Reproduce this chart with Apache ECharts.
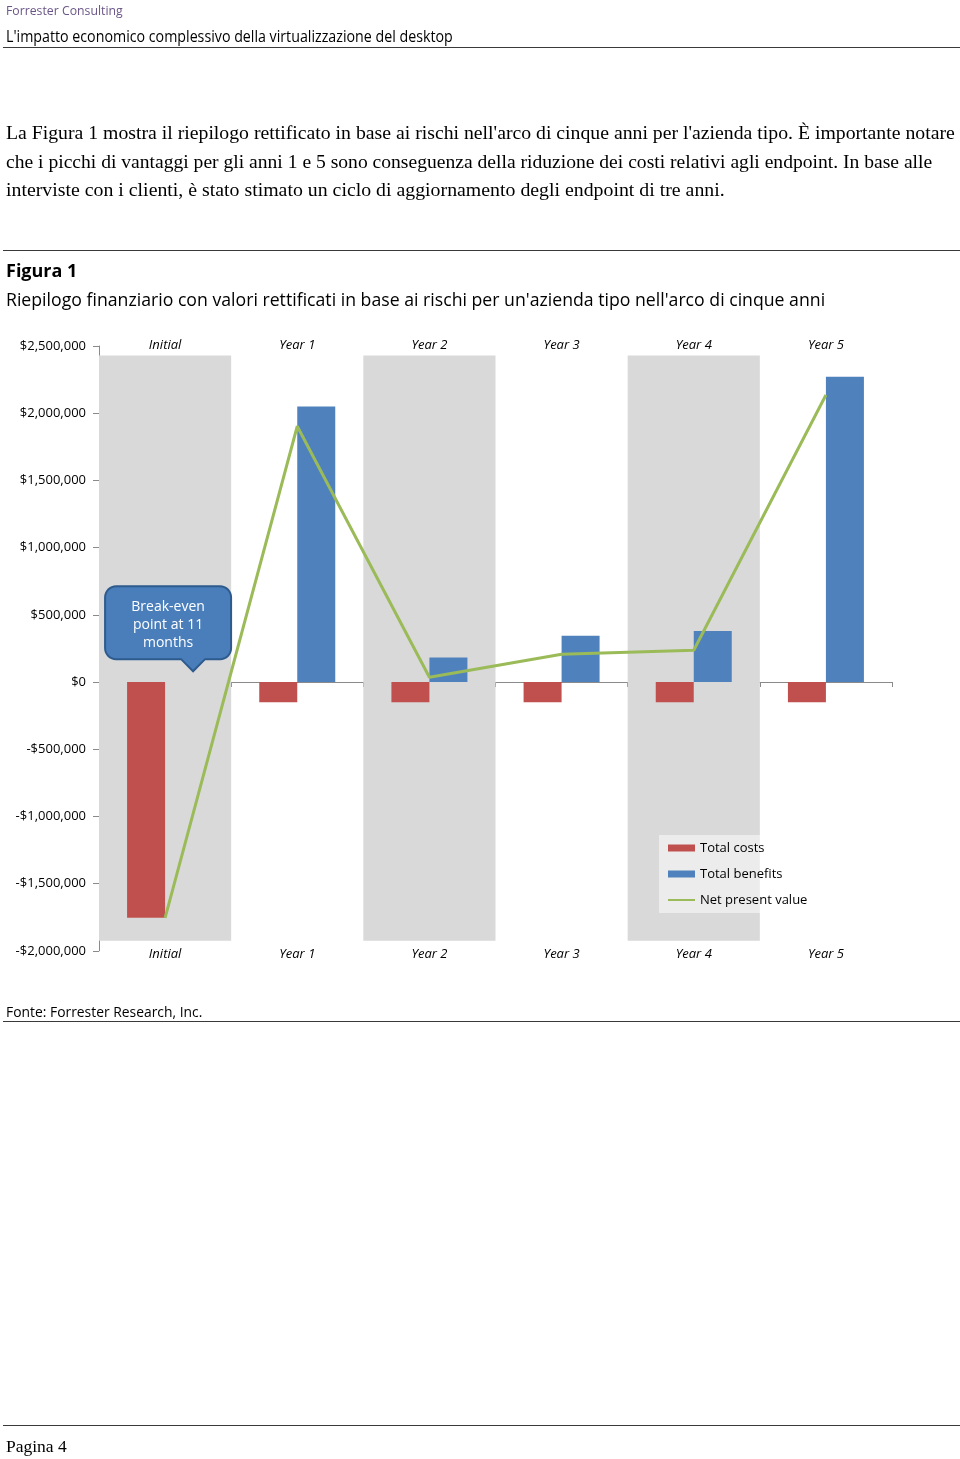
<!DOCTYPE html>
<html>
<head>
<meta charset="utf-8">
<script src="https://cdn.jsdelivr.net/npm/echarts@6/dist/echarts.min.js"></script>
<style>
html,body{margin:0;padding:0;background:#fff;}
#page{position:relative;width:960px;height:1459px;overflow:hidden;background:#fff;}
#chart{position:absolute;left:0;top:0;width:960px;height:1459px;}
.t{position:absolute;left:6px;white-space:nowrap;transform-origin:0 50%;color:#000;z-index:5;}
.sans{font-family:"Open Sans","Noto Sans",sans-serif;}
.serif{font-family:"Liberation Serif","DejaVu Serif",serif;}
.rule{position:absolute;left:3px;width:957px;height:0;border-top:1.6px solid #3a3a3a;z-index:5;}
</style>
</head>
<body>
<div id="page">
  <div id="chart"></div>
  <div class="t sans" data-w="117" style="top:1px;line-height:18px;font-size:13px;color:#6a5587;">Forrester Consulting</div>
  <div class="t sans" data-w="447" style="top:26px;line-height:20px;font-size:15.5px;">L'impatto economico complessivo della virtualizzazione del desktop</div>
  <div class="rule" style="top:47px;"></div>

  <div class="t serif" data-w="949" style="top:119px;line-height:28px;font-size:19.5px;">La Figura 1 mostra il riepilogo rettificato in base ai rischi nell'arco di cinque anni per l'azienda tipo. È importante notare</div>
  <div class="t serif" data-w="926" style="top:148px;line-height:28px;font-size:19.5px;">che i picchi di vantaggi per gli anni 1 e 5 sono conseguenza della riduzione dei costi relativi agli endpoint. In base alle</div>
  <div class="t serif" data-w="719" style="top:176px;line-height:28px;font-size:19.5px;">interviste con i clienti, è stato stimato un ciclo di aggiornamento degli endpoint di tre anni.</div>

  <div class="rule" style="top:250px;"></div>
  <div class="t sans" data-w="71" style="top:258px;line-height:24px;font-size:18px;font-weight:bold;">Figura 1</div>
  <div class="t sans" data-w="819" style="top:287px;line-height:24px;font-size:18px;">Riepilogo finanziario con valori rettificati in base ai rischi per un'azienda tipo nell'arco di cinque anni</div>

  <div class="t sans" data-w="196" style="top:1000px;line-height:22px;font-size:15px;">Fonte: Forrester Research, Inc.</div>
  <div class="rule" style="top:1021px;"></div>
  <div class="rule" style="top:1425px;"></div>
  <div class="t serif" data-w="61" style="top:1435px;line-height:22px;font-size:17.5px;">Pagina 4</div>
</div>
<script>
// ---- data ----
const categories = ['Initial', 'Year 1', 'Year 2', 'Year 3', 'Year 4', 'Year 5'];
const shadedCategories = ['Initial', 'Year 2', 'Year 4'];
const totalCosts = [-1755000, -150000, -150000, -150000, -150000, -150000];
const totalBenefits = [0, 2050000, 183000, 345000, 380000, 2272000];
const netPresentValue = [-1755000, 1903000, 35000, 206000, 236000, 2135000];
const seriesNames = ['Total costs', 'Total benefits', 'Net present value'];
const calloutLines = ['Break-even', 'point at 11', 'months'];

// ---- fit page text widths ----
document.querySelectorAll('.t[data-w]').forEach(el => {
  const w = parseFloat(el.getAttribute('data-w'));
  const nat = el.offsetWidth;
  if (nat > 0) el.style.transform = 'scaleX(' + (w / nat) + ')';
});

const FONT = '"Open Sans","Noto Sans",sans-serif';
const AXIS_COLOR = '#8a8a8a';
const BAND_TOP = 2430000, BAND_BOTTOM = -1925000;

const chart = echarts.init(document.getElementById('chart'), null, {renderer: 'canvas'});

function money(v) {
  return (v < 0 ? '-' : '') + '$' + Math.abs(v).toLocaleString('en-US');
}

const catLabel = {fontFamily: FONT, fontSize: 13, fontStyle: 'italic', color: '#000'};

const option = {
  animation: false,
  backgroundColor: 'transparent',
  textStyle: {fontFamily: FONT},
  grid: {left: 99, right: 68, top: 346, bottom: 508.2, containLabel: false},
  legend: {
    orient: 'vertical',
    left: 659, top: 835,
    padding: [6, 4, 6, 8],
    backgroundColor: 'rgba(255,255,255,0.5)',
    itemWidth: 27, itemHeight: 7, itemGap: 12,
    textStyle: {fontFamily: FONT, fontSize: 13, color: '#000', lineHeight: 14},
    data: [
      {name: seriesNames[0], icon: 'rect'},
      {name: seriesNames[1], icon: 'rect'},
      {name: seriesNames[2], itemStyle: {opacity: 0}}
    ]
  },
  xAxis: [
    { // zero line with boundary ticks
      type: 'category', data: categories, position: 'bottom',
      axisLine: {show: true, onZero: true, lineStyle: {color: AXIS_COLOR, width: 1}},
      axisTick: {show: true, length: 5, lineStyle: {color: AXIS_COLOR}},
      axisLabel: {show: false}, splitLine: {show: false}
    },
    { // bottom labels
      type: 'category', data: categories, position: 'bottom',
      axisLine: {show: false, onZero: false}, axisTick: {show: false},
      axisLabel: Object.assign({margin: -3}, catLabel)
    },
    { // top labels
      type: 'category', data: categories, position: 'top',
      axisLine: {show: false, onZero: false}, axisTick: {show: false},
      axisLabel: Object.assign({margin: -6}, catLabel)
    },
    { // shaded bands axis
      type: 'category', data: categories, show: false
    }
  ],
  yAxis: {
    type: 'value', min: -2000000, max: 2500000, interval: 500000,
    axisLine: {show: true, onZero: false, lineStyle: {color: AXIS_COLOR, width: 1}},
    axisTick: {show: true, length: 6, lineStyle: {color: AXIS_COLOR}},
    axisLabel: {formatter: money, fontFamily: FONT, fontSize: 13, color: '#000', margin: 13},
    splitLine: {show: false}
  },
  series: [
    {
      name: 'band+', type: 'bar', xAxisIndex: 3, stack: 'band', barWidth: '100%',
      silent: true, itemStyle: {color: '#d9d9d9'}, z: 1,
      data: categories.map(c => shadedCategories.includes(c) ? BAND_TOP : '-')
    },
    {
      name: 'band-', type: 'bar', xAxisIndex: 3, stack: 'band', barWidth: '100%',
      silent: true, itemStyle: {color: '#d9d9d9'}, z: 1,
      data: categories.map(c => shadedCategories.includes(c) ? BAND_BOTTOM : '-')
    },
    {
      name: seriesNames[0], type: 'bar', xAxisIndex: 0, barWidth: 38, barGap: '0%',
      itemStyle: {color: '#C0504D'}, z: 2, data: totalCosts
    },
    {
      name: seriesNames[1], type: 'bar', xAxisIndex: 0, barWidth: 38, barGap: '0%',
      itemStyle: {color: '#4F81BD'}, z: 2, data: totalBenefits
    },
    {
      name: seriesNames[2], type: 'line', xAxisIndex: 0, symbol: 'none', showSymbol: false,
      lineStyle: {color: '#9BBB59', width: 3}, itemStyle: {color: '#9BBB59'}, z: 4,
      data: netPresentValue
    }
  ]
};
chart.setOption(option);

// ---- break-even callout anchored through the chart's scales ----
const finder = {xAxisIndex: 0, yAxisIndex: 0};
const c0 = chart.convertToPixel(finder, [categories[0], 0]);
const yTop = chart.convertToPixel(finder, [categories[0], 712000])[1];
const yBot = chart.convertToPixel(finder, [categories[0], 170000])[1];
const yTip = chart.convertToPixel(finder, [categories[0], 80000])[1];
const x0 = c0[0] - 60, x1 = c0[0] + 66, px = c0[0] + 28, r = 11;
const pts = [];
function corner(cx, cy, a0, a1) {
  for (let k = 0; k <= 8; k++) {
    const a = a0 + (a1 - a0) * k / 8;
    pts.push([cx + r * Math.cos(a), cy + r * Math.sin(a)]);
  }
}
corner(x0 + r, yTop + r, Math.PI, 1.5 * Math.PI);
corner(x1 - r, yTop + r, 1.5 * Math.PI, 2 * Math.PI);
corner(x1 - r, yBot - r, 0, 0.5 * Math.PI);
pts.push([px + 12, yBot], [px, yTip], [px - 12, yBot]);
corner(x0 + r, yBot - r, 0.5 * Math.PI, Math.PI);

chart.setOption({
  graphic: [
    {type: 'polygon', z: 20, shape: {points: pts},
     style: {fill: '#4A7EBB', stroke: '#2E5B8E', lineWidth: 2}},
    {type: 'text', z: 21, x: (x0 + x1) / 2, y: (yTop + yBot) / 2 + 2,
     style: {text: calloutLines.join('\n'), fill: '#fff', font: '14px ' + FONT,
             align: 'center', verticalAlign: 'middle', lineHeight: 18}}
  ]
});
</script>
</body>
</html>
